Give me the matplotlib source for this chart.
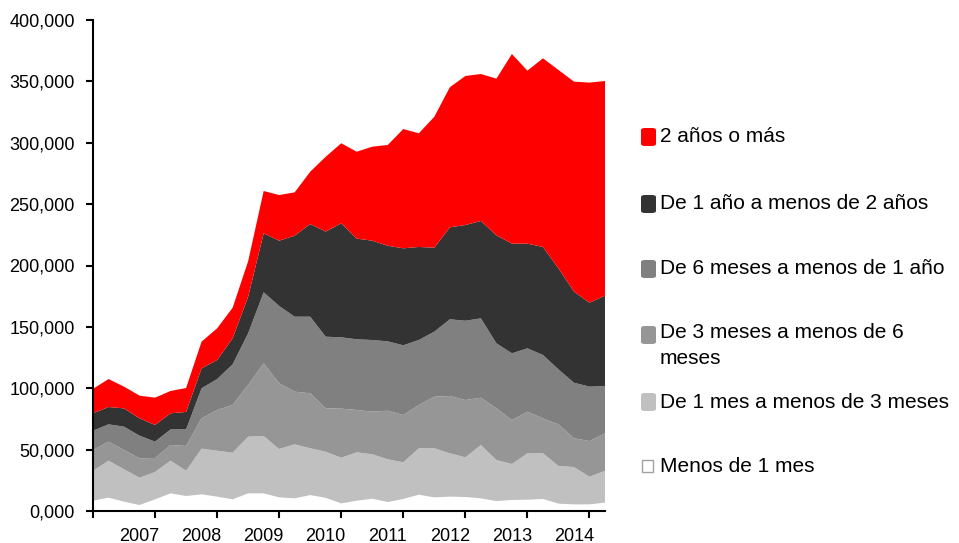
import numpy as np
import matplotlib
matplotlib.use("Agg")
import matplotlib.pyplot as plt
from matplotlib.patches import FancyBboxPatch

plt.rcParams['font.family'] = ['Liberation Sans', 'DejaVu Sans']

# Trimestres desde 2006 T2 hasta 2014 T3
trimestres = np.arange(34)
etiquetas_anios = ['2007', '2008', '2009', '2010', '2011', '2012', '2013', '2014']
pos_anios = [3, 7, 11, 15, 19, 23, 27, 31]

# Parados por duración de la búsqueda (personas)
menos_1_mes = [8400, 10900, 7600, 4900, 9500, 14400, 12200, 13600, 11700, 9500, 14400, 14400,
               11100, 10300, 13000, 10700, 6200, 8400, 10000, 7300, 9800, 13300, 11100, 11700,
               11400, 10300, 8100, 9000, 9200, 9800, 6000, 5400, 5400, 6800]
de_1_a_3_meses = [24400, 30100, 26400, 22200, 22300, 26600, 20600, 37200, 37400, 38000, 46100, 46700,
                  39400, 44000, 38100, 37600, 37200, 39400, 36200, 34800, 29900, 37800, 40000, 35300,
                  32300, 43500, 33400, 29300, 37800, 37200, 30700, 30400, 22500, 26000]
de_3_a_6_meses = [16900, 15500, 15700, 15800, 11400, 12800, 20200, 24700, 33200, 38900, 42200, 59200,
                  53500, 42900, 44800, 35400, 40000, 34500, 34700, 39600, 38500, 35300, 42000, 46700,
                  46700, 38500, 42200, 35800, 33900, 28500, 33900, 23400, 29100, 30500]
de_6_meses_a_1_anio = [15700, 14100, 19000, 18500, 13300, 12700, 13500, 24500, 25200, 33100, 42100, 57900,
                       63000, 61100, 62400, 58300, 58100, 57600, 58400, 56500, 56800, 52900, 53000, 62500,
                       64600, 64700, 52900, 54400, 51600, 51600, 44800, 45300, 44300, 38500]
de_1_a_2_anios = [14200, 14100, 14900, 14100, 13600, 13100, 14200, 16200, 15500, 21200, 29800, 48000,
                  53200, 66000, 75500, 85600, 92900, 82000, 80900, 77900, 79000, 75800, 68400, 74900,
                  78000, 79300, 88000, 89300, 85300, 88000, 82300, 74200, 68400, 73600]
dos_anios_o_mas = [19900, 22800, 17700, 18500, 22200, 18200, 19500, 21800, 25800, 24900, 28900, 34500,
                   37200, 35300, 42600, 61000, 65200, 70800, 76600, 82100, 97200, 92600, 106700, 114100,
                   121400, 119700, 127600, 154500, 140900, 153700, 161600, 171100, 179300, 174900]

series = [menos_1_mes, de_1_a_3_meses, de_3_a_6_meses, de_6_meses_a_1_anio, de_1_a_2_anios, dos_anios_o_mas]
nombres = ['Menos de 1 mes', 'De 1 mes a menos de 3 meses', 'De 3 meses a menos de 6\nmeses',
           'De 6 meses a menos de 1 año', 'De 1 año a menos de 2 años', '2 años o más']
colores = ['#FFFFFF', '#C0C0C0', '#969696', '#808080', '#333333', '#FF0000']

fig = plt.figure(figsize=(9.59, 5.43), dpi=100)
ax = fig.add_axes([93 / 959, 32 / 543, 512 / 959, 491 / 543])

ax.stackplot(trimestres, *series, colors=colores, linewidth=0)

ax.set_xlim(0, 33)
ax.set_ylim(0, 400000)

# Eje Y
yticks = np.arange(0, 400001, 50000)
ax.set_yticks(yticks)
ax.set_yticklabels(['0,000'] + [f"{v:,}" for v in yticks[1:]])
ax.tick_params(axis='y', direction='out', length=5, width=1.5, pad=8, labelsize=13)

# Eje X: marcas cada 4 trimestres, años en el primer trimestre
ax.set_xticks(range(0, 34, 4))
ax.set_xticklabels([''] * len(range(0, 34, 4)))
ax.set_xticks(pos_anios, minor=True)
ax.set_xticklabels(etiquetas_anios, minor=True)
ax.tick_params(axis='x', which='major', direction='out', length=5, width=1.5)
ax.tick_params(axis='x', which='minor', length=0, pad=12, labelsize=13)

for lado in ['top', 'right']:
    ax.spines[lado].set_visible(False)
for lado in ['left', 'bottom']:
    ax.spines[lado].set_linewidth(1.5)

# Leyenda manual (de arriba abajo)
filas_y = [137, 204, 269, 335, 402, 466]
for nombre, color, yp in zip(nombres[::-1], colores[::-1], filas_y):
    yf = 1 - yp / 543
    if color == '#FFFFFF':
        w, h = 11 / 959, 12 / 543
        caja = FancyBboxPatch((642 / 959, yf - h / 2), w, h, boxstyle='square,pad=0',
                              facecolor='white', edgecolor='#A0A0A0', linewidth=1,
                              transform=fig.transFigure)
    else:
        w, h = 15 / 959, 18 / 543
        caja = FancyBboxPatch((641 / 959, yf - h / 2), w, h,
                              boxstyle='round,pad=0,rounding_size=0.004',
                              facecolor=color, edgecolor='none', transform=fig.transFigure)
    fig.add_artist(caja)
    if '\n' in nombre:
        # la primera línea queda alineada con el cuadro
        fig.text(660 / 959, 1 - (yp - 12) / 543, nombre, fontsize=15, ha='left', va='top',
                 linespacing=1.45)
    else:
        fig.text(660 / 959, yf, nombre, fontsize=15, ha='left', va='center')

fig.savefig('out.png', dpi=100)
